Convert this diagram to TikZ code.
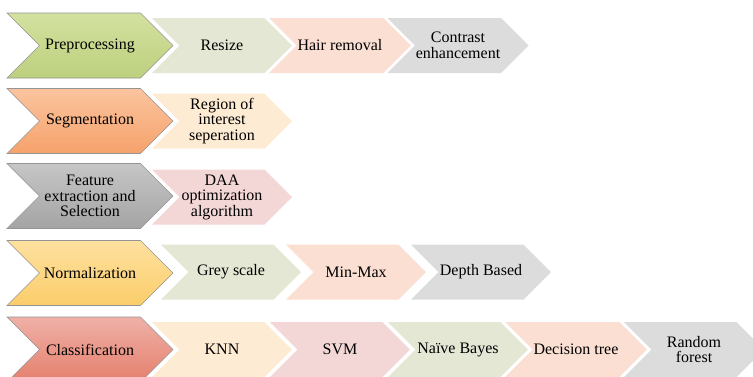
\documentclass[tikz,border=0pt]{standalone}
\usepackage{fontspec}
\setmainfont{Liberation Serif}
\usepackage{tikz}
\usetikzlibrary{shapes.symbols}
\definecolor{preTop}{HTML}{D3E19F}
\definecolor{preBot}{HTML}{BDD07E}
\definecolor{segTop}{HTML}{FBC49E}
\definecolor{segBot}{HTML}{F6A26C}
\definecolor{feaTop}{HTML}{C6C6C6}
\definecolor{feaBot}{HTML}{A4A4A4}
\definecolor{nrmTop}{HTML}{FEE1A0}
\definecolor{nrmBot}{HTML}{FBCD6A}
\definecolor{clsTop}{HTML}{EFB0A7}
\definecolor{clsBot}{HTML}{E5806D}
\definecolor{subGreen}{HTML}{E3E7D3}
\definecolor{subPeach}{HTML}{FADFD2}
\definecolor{subGray}{HTML}{DCDCDC}
\definecolor{subCream}{HTML}{FEEBD3}
\definecolor{subPink}{HTML}{F3D7D6}

\begin{document}
\begin{tikzpicture}[
  x=1pt, y=-1pt,
  head/.style={signal, signal to=east, signal from=west,
               draw=black!42, line width=0.6pt,
               minimum width=166pt, minimum height=65pt,
               inner sep=1pt, align=center,
               font=\fontsize{16}{15.5}\selectfont},
  sub/.style={signal, signal to=east, signal from=west,
              fill=#1, draw=none,
              minimum width=140pt, minimum height=55pt,
              inner sep=1pt, align=center,
              font=\fontsize{16}{15.5}\selectfont}]
\useasboundingbox (0,0) rectangle (753,376);
\clip (0,0) rectangle (753,376);
% --- step 1: preprocessing ---
\node[sub=subGreen] (resize) at (222,45.5) {Resize};
\node[sub=subPeach] (hair)   at (340,45.5) {Hair removal};
\node[sub=subGray]  (contr)  at (458,45.5) {Contrast\\enhancement};
\node[head, top color=preTop, bottom color=preBot] (pre) at (90,45.5) {Preprocessing};
% --- step 2: segmentation ---
\node[sub=subCream] (roi) at (222,121) {Region of\\interest\\seperation};
\node[head, top color=segTop, bottom color=segBot] (seg) at (90,121) {Segmentation};
% --- step 3: feature extraction ---
\node[sub=subPink] (daa) at (222,197) {DAA\\optimization\\algorithm};
\node[head, top color=feaTop, bottom color=feaBot] (fea) at (90,196) {Feature\\extraction and\\Selection};
% --- step 4: normalization (wider spacing) ---
\node[sub=subGreen] (grey)  at (231,272) {Grey scale};
\node[sub=subPeach] (minmax) at (356,272) {Min-Max};
\node[sub=subGray]  (depth) at (481,272) {Depth Based};
\node[head, top color=nrmTop, bottom color=nrmBot] (nrm) at (90,273) {Normalization};
% --- step 5: classification ---
\node[sub=subCream] (knn)   at (222,349.5) {KNN};
\node[sub=subPink]  (svm)   at (340,349.5) {SVM};
\node[sub=subGreen] (nb)    at (458,349.5) {Naïve Bayes};
\node[sub=subPeach] (dtree) at (576,349.5) {Decision tree};
\node[sub=subGray]  (rf)    at (694,349.5) {Random\\forest};
\node[head, top color=clsTop, bottom color=clsBot] (cls) at (90,349.5) {Classification};
\end{tikzpicture}
\end{document}
